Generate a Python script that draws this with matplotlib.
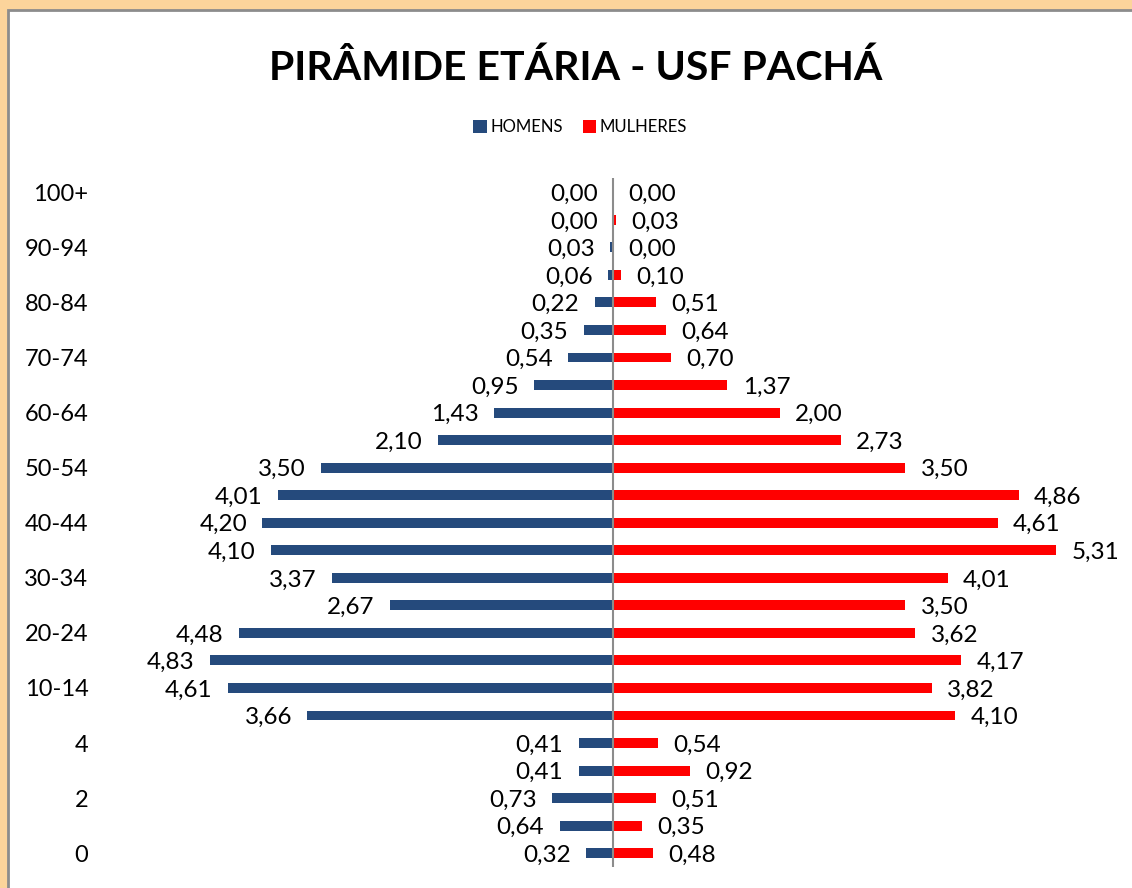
import matplotlib.pyplot as plt
from matplotlib.patches import Rectangle

plt.rcParams['font.family'] = ['Lato', 'DejaVu Sans']

faixas = ['0', '1', '2', '3', '4', '5-9', '10-14', '15-19', '20-24', '25-29',
          '30-34', '35-39', '40-44', '45-49', '50-54', '55-59', '60-64',
          '65-69', '70-74', '75-79', '80-84', '85-89', '90-94', '95-99', '100+']

homens = [0.32, 0.64, 0.73, 0.41, 0.41, 3.66, 4.61, 4.83, 4.48, 2.67,
          3.37, 4.10, 4.20, 4.01, 3.50, 2.10, 1.43, 0.95, 0.54, 0.35,
          0.22, 0.06, 0.03, 0.00, 0.00]

mulheres = [0.48, 0.35, 0.51, 0.92, 0.54, 4.10, 3.82, 4.17, 3.62, 3.50,
            4.01, 5.31, 4.61, 4.86, 3.50, 2.73, 2.00, 1.37, 0.70, 0.64,
            0.51, 0.10, 0.00, 0.03, 0.00]

azul = '#254A7C'
vermelho = '#FF0000'

W, H = 1132, 888
fig = plt.figure(figsize=(W / 100, H / 100), dpi=100)
fig.patch.set_facecolor('#FCD49B')

# moldura branca do gráfico
fig.patches.append(Rectangle((8 / W, -0.1), 1.2, 1 - 10 / H + 0.1,
                             transform=fig.transFigure, facecolor='white',
                             edgecolor='#8C8C8C', linewidth=2, zorder=-10))

ax = fig.add_axes([112 / W, 21 / H, 1002 / W, 688.5 / H])
ax.set_facecolor('none')
ax.set_zorder(5)

y = list(range(len(faixas)))
neg_homens = [-v for v in homens]

ax.barh(y, neg_homens, height=0.36, color=azul, label='HOMENS', zorder=2)
ax.barh(y, mulheres, height=0.36, color=vermelho, label='MULHERES', zorder=2)
ax.axvline(0, color='#8C8C8C', linewidth=1.5, zorder=3)

for i in y:
    ax.annotate(f'{homens[i]:.2f}'.replace('.', ','), (-homens[i], i),
                xytext=(-11, -1.5), textcoords='offset points',
                ha='right', va='center', fontsize=17.5)
    ax.annotate(f'{mulheres[i]:.2f}'.replace('.', ','), (mulheres[i], i),
                xytext=(11, -1.5), textcoords='offset points',
                ha='left', va='center', fontsize=17.5)

ax.set_xlim(-6, 6)
ax.set_ylim(-0.5, len(faixas) - 0.5)
ax.set_yticks(y[::2])
ax.set_yticklabels(faixas[::2], fontsize=17)
ax.tick_params(axis='y', length=0, pad=17)
ax.set_xticks([])
for s in ax.spines.values():
    s.set_visible(False)

fig.text(576 / W, 1 - 80 / H, 'PIRÂMIDE ETÁRIA - USF PACHÁ',
         ha='center', va='baseline', fontsize=29.5, fontweight='bold', zorder=6)

fig.legend(loc='center', bbox_to_anchor=(580 / W, 1 - 127 / H), ncol=2,
           frameon=False, fontsize=12, handlelength=0.8, handleheight=0.8,
           handletextpad=0.2, columnspacing=1.2)

fig.savefig('out.png', dpi=100, facecolor=fig.get_facecolor())
